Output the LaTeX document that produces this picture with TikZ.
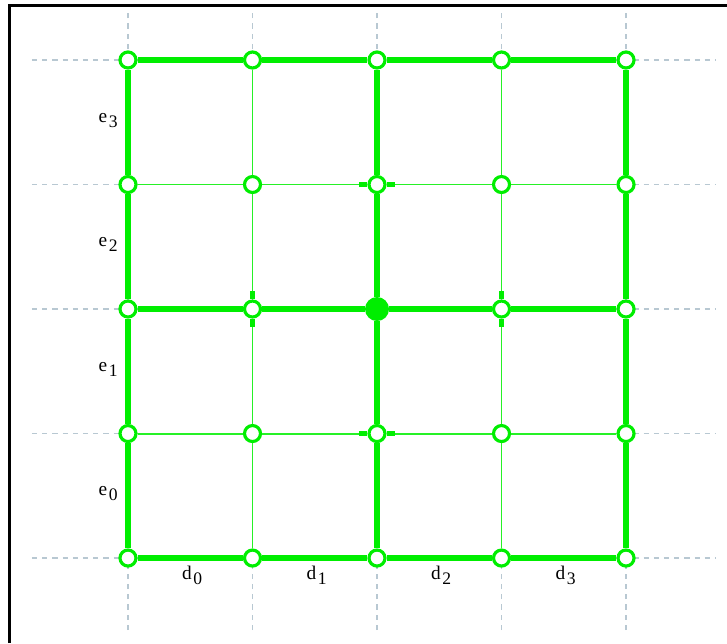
\documentclass[tikz,border=0pt]{standalone}
\usepackage{fontspec}
\setmainfont{Liberation Serif}
\usepackage{xcolor}
\usepackage{tikz}
\usetikzlibrary{positioning}

\definecolor{gridgreen}{RGB}{0,238,0}
\definecolor{guidegray}{RGB}{184,200,210}

\newcommand{\sublabel}[2]{#1\kern1pt\raisebox{-2.8pt}{\fontsize{10}{11}\selectfont #2}}

\begin{document}
\begin{tikzpicture}[x=2.49cm, y=2.49cm,
    guide/.style={draw=guidegray, dash pattern=on 3pt off 2.8pt, line width=0.75pt},
    major/.style={draw=gridgreen, line width=3pt},
    minor/.style={draw=gridgreen!85!white, line width=1.1pt},
    vtx/.style={draw=gridgreen, circle, fill=white, line width=1.8pt, minimum size=0.32cm, inner sep=0pt},
    hub/.style={fill=gridgreen, circle, minimum size=0.48cm, inner sep=0pt},
    lab/.style={font=\fontsize{11}{13}\selectfont, inner sep=0pt}]
    \useasboundingbox (-1.028,-0.683) rectangle (4.811,4.482);

    % frame
    \draw[line width=1.7pt] (-0.952,-0.683) -- (-0.952,4.438) -- (4.811,4.438);

    % guide lines
    \foreach \k in {0,...,4} {
        \draw[guide] (\k,-0.578) -- (\k,4.378);
        \draw[guide] (-0.771,\k) -- (4.715,\k);
    }

    % vertices
    \foreach \i in {0,...,4}
        \foreach \j in {0,...,4}
            \node[vtx] (v\i\j) at (\i,\j) {};
    \node[hub] (v22) at (2,2) {};

    % edges
    \foreach \k in {0,2,4} {
        \draw[major] (v0\k) -- (v1\k) -- (v2\k) -- (v3\k) -- (v4\k);
        \draw[major] (v\k0) -- (v\k1) -- (v\k2) -- (v\k3) -- (v\k4);
    }
    \foreach \k in {1,3} {
        \draw[minor] (v0\k) -- (v1\k) -- (v2\k) -- (v3\k) -- (v4\k);
        \draw[minor] (v\k0) -- (v\k1) -- (v\k2) -- (v\k3) -- (v\k4);
    }

    % stubs
    \draw[major] (v21.west) -- ++(-0.065,0);
    \draw[major] (v21.east) -- ++(0.065,0);
    \draw[major] (v23.west) -- ++(-0.065,0);
    \draw[major] (v23.east) -- ++(0.065,0);
    \draw[major] (v12.north) -- ++(0,0.065);
    \draw[major] (v12.south) -- ++(0,-0.065);
    \draw[major] (v32.north) -- ++(0,0.065);
    \draw[major] (v32.south) -- ++(0,-0.065);

    % labels
    \foreach \k in {0,...,3} {
        \node[lab, anchor=base east] (e\k) at (-0.08,\k+0.5) {\sublabel{e}{\k}};
        \node[lab, anchor=base] (d\k) at (\k+0.515,-0.169) {\sublabel{d}{\k}};
    }
\end{tikzpicture}
\end{document}
